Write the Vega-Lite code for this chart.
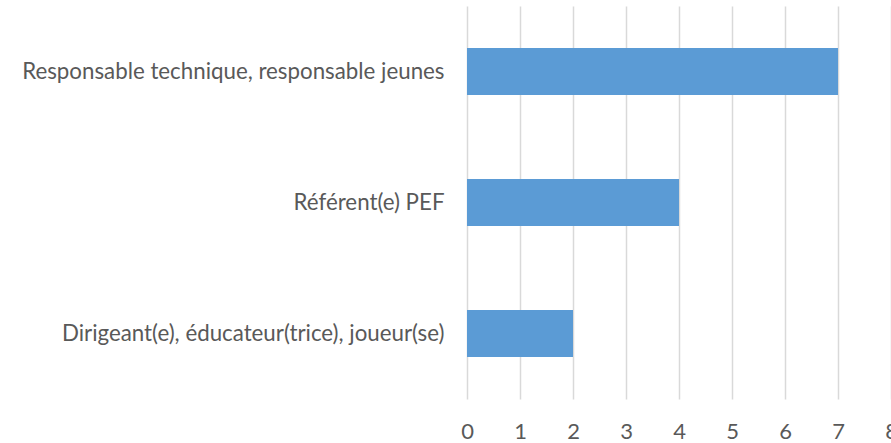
{
  "$schema": "https://vega.github.io/schema/vega-lite/v6.json",
  "width": 424,
  "height": 393,
  "autosize": {"type": "none"},
  "padding": {"left": 467, "top": 6, "right": 0, "bottom": 44},
  "background": "white",
  "config": {"view": {"stroke": null}},
  "data": {"values": [
    {"role": "Responsable technique, responsable jeunes", "count": 7},
    {"role": "Référent(e) PEF", "count": 4},
    {"role": "Dirigeant(e), éducateur(trice), joueur(se)", "count": 2}
  ]},
  "mark": {"type": "bar", "color": "#5b9bd5"},
  "encoding": {
    "y": {
      "field": "role", "type": "nominal", "sort": null, "title": null,
      "scale": {"paddingInner": 0.64, "paddingOuter": 0.32},
      "axis": {"domain": false, "ticks": false, "labelPadding": 23, "labelFont": "Lato", "labelFontSize": 22.3, "labelColor": "#595959", "labelLimit": 600}
    },
    "x": {
      "field": "count", "type": "quantitative", "title": null,
      "scale": {"domain": [0, 8], "nice": false},
      "axis": {"values": [0,1,2,3,4,5,6,7,8], "grid": true, "gridColor": "#d9d9d9", "gridWidth": 1.5, "domain": false, "ticks": false, "labelPadding": 22, "labelFont": "Lato", "labelFontSize": 22, "labelColor": "#595959", "labelFlush": false, "labelBound": false}
    }
  }
}
